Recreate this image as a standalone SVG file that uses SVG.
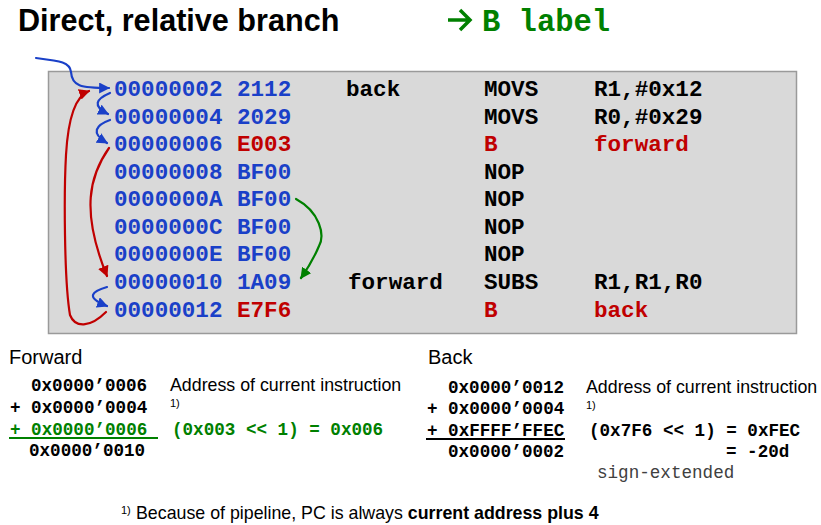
<svg xmlns="http://www.w3.org/2000/svg" width="821" height="525" viewBox="0 0 821 525">
  <style>
    .sans { font-family: "Liberation Sans", Arial, sans-serif; fill: #000; }
    .title { font-size: 30.6px; font-weight: bold; }
    .code { font-family: "Liberation Mono", "Courier New", monospace; font-weight: bold; font-size: 22.6px; fill: #000; }
    .calc { font-family: "Liberation Mono", "Courier New", monospace; font-weight: bold; font-size: 17.6px; fill: #000; }
    .blue { fill: #1a40c8; }
    .red { fill: #c00000; }
    .green { fill: #008000; }
    .wire { fill: none; stroke-width: 2.2; stroke-linecap: round; }
  </style>
  <defs>
    <marker id="ah-blue" viewBox="0 0 10 10" refX="9" refY="5" markerWidth="5" markerHeight="5" orient="auto" markerUnits="strokeWidth">
      <path d="M0,0 L10,5 L0,10 z" fill="#1a40c8"/>
    </marker>
    <marker id="ah-red" viewBox="0 0 10 10" refX="9" refY="5" markerWidth="5" markerHeight="5" orient="auto" markerUnits="strokeWidth">
      <path d="M0,0 L10,5 L0,10 z" fill="#c00000"/>
    </marker>
    <marker id="ah-green" viewBox="0 0 10 10" refX="9" refY="5" markerWidth="5" markerHeight="5" orient="auto" markerUnits="strokeWidth">
      <path d="M0,0 L10,5 L0,10 z" fill="#008000"/>
    </marker>
  </defs>

  <!-- heading -->
  <g id="heading">
    <text class="sans title" x="18" y="31">Direct, relative branch</text>
    <path d="M448,20 H469 M460,10 L470,20 L460,30" fill="none" stroke="#008000" stroke-width="3.5"/>
    <text class="code green" x="482" y="31" style="font-size:30.5px">B label</text>
  </g>

  <!-- listing panel -->
  <rect x="48.5" y="71.5" width="748" height="262" fill="#d9d9d9" stroke="#9a9a9a" stroke-width="1.5"/>

  <g id="row-02">
    <text class="code blue" x="114" y="96">00000002</text>
    <text class="code blue" x="237" y="96">2112</text>
    <text class="code" x="346" y="96">back</text>
    <text class="code" x="484" y="96">MOVS</text>
    <text class="code" x="594" y="96">R1,#0x12</text>
  </g>
  <g id="row-04">
    <text class="code blue" x="114" y="123.6">00000004</text>
    <text class="code blue" x="237" y="123.6">2029</text>
    <text class="code" x="484" y="123.6">MOVS</text>
    <text class="code" x="594" y="123.6">R0,#0x29</text>
  </g>
  <g id="row-06">
    <text class="code blue" x="114" y="151.1">00000006</text>
    <text class="code red" x="237" y="151.1">E003</text>
    <text class="code red" x="484" y="151.1">B</text>
    <text class="code red" x="594" y="151.1">forward</text>
  </g>
  <g id="row-08">
    <text class="code blue" x="114" y="178.7">00000008</text>
    <text class="code blue" x="237" y="178.7">BF00</text>
    <text class="code" x="484" y="178.7">NOP</text>
  </g>
  <g id="row-0A">
    <text class="code blue" x="114" y="206.2">0000000A</text>
    <text class="code blue" x="237" y="206.2">BF00</text>
    <text class="code" x="484" y="206.2">NOP</text>
  </g>
  <g id="row-0C">
    <text class="code blue" x="114" y="233.8">0000000C</text>
    <text class="code blue" x="237" y="233.8">BF00</text>
    <text class="code" x="484" y="233.8">NOP</text>
  </g>
  <g id="row-0E">
    <text class="code blue" x="114" y="261.4">0000000E</text>
    <text class="code blue" x="237" y="261.4">BF00</text>
    <text class="code" x="484" y="261.4">NOP</text>
  </g>
  <g id="row-10">
    <text class="code blue" x="114" y="288.9">00000010</text>
    <text class="code blue" x="237" y="288.9">1A09</text>
    <text class="code" x="348" y="288.9">forward</text>
    <text class="code" x="484" y="288.9">SUBS</text>
    <text class="code" x="594" y="288.9">R1,R1,R0</text>
  </g>
  <g id="row-12">
    <text class="code blue" x="114" y="316.5">00000012</text>
    <text class="code red" x="237" y="316.5">E7F6</text>
    <text class="code red" x="484" y="316.5">B</text>
    <text class="code red" x="594" y="316.5">back</text>
  </g>

  <!-- control-flow arrows -->
  <g id="connectors">
    <path class="wire" stroke="#1a40c8" marker-end="url(#ah-blue)" d="M36,58 C60,61 70,62 71,72 C72,86 80,88 109,88"/>
    <path class="wire" stroke="#1a40c8" marker-end="url(#ah-blue)" d="M110,93 C96,99 92,106 108,114"/>
    <path class="wire" stroke="#1a40c8" marker-end="url(#ah-blue)" d="M110,120 C96,125 90,133 107,143"/>
    <path class="wire" stroke="#1a40c8" marker-end="url(#ah-blue)" d="M107,287 C93,291 84,297 107,306"/>
    <path class="wire" stroke="#c00000" marker-end="url(#ah-red)" d="M109,148 C90,175 80,210 107,276"/>
    <path class="wire" stroke="#c00000" marker-end="url(#ah-red)" d="M106,312 C90,328 75,328 70,315 C64,280 64,190 66,155 C68,120 75,96 89,91"/>
    <path class="wire" stroke="#008000" marker-end="url(#ah-green)" d="M296,199 C320,212 325,235 319,246 C314,258 308,268 301,278"/>
  </g>

  <!-- forward offset calculation -->
  <g id="forward-calc">
    <text class="sans" x="9" y="364" style="font-size:20px">Forward</text>
    <text class="calc" x="31" y="391">0x0000’0006</text>
    <text class="calc" x="10" y="413">+ 0x0000’0004</text>
    <text class="calc green" x="10" y="434.5">+ 0x0000’0006</text>
    <line x1="9" y1="438" x2="158" y2="438" stroke="#008000" stroke-width="2"/>
    <text class="calc" x="29" y="456">0x0000’0010</text>
    <text class="sans" x="170" y="391" style="font-size:17.8px">Address of current instruction</text>
    <text class="sans" x="170" y="407" style="font-size:11px">1)</text>
    <text class="calc green" x="172" y="434.5">(0x003 &lt;&lt; 1) = 0x006</text>
  </g>

  <!-- backward offset calculation -->
  <g id="back-calc">
    <text class="sans" x="428" y="364" style="font-size:20px">Back</text>
    <text class="calc" x="448" y="393">0x0000’0012</text>
    <text class="calc" x="427" y="414">+ 0x0000’0004</text>
    <text class="calc" x="427" y="436">+ 0xFFFF’FFEC</text>
    <line x1="426" y1="439" x2="565" y2="439" stroke="#000" stroke-width="2"/>
    <text class="calc" x="448" y="457">0x0000’0002</text>
    <text class="sans" x="586" y="393" style="font-size:17.8px">Address of current instruction</text>
    <text class="sans" x="586" y="409" style="font-size:11px">1)</text>
    <text class="calc" x="589" y="436">(0x7F6 &lt;&lt; 1) = 0xFEC</text>
    <text class="calc" x="726" y="457">= -20d</text>
    <text class="calc" x="597" y="478" style="font-weight:normal;fill:#404040">sign-extended</text>
  </g>

  <!-- footnote -->
  <g id="footnote">
    <text class="sans" x="121" y="514" style="font-size:11px">1)</text>
    <text class="sans" x="136" y="519" style="font-size:17.8px">Because of pipeline, PC is always <tspan font-weight="bold">current address plus 4</tspan></text>
  </g>
</svg>
